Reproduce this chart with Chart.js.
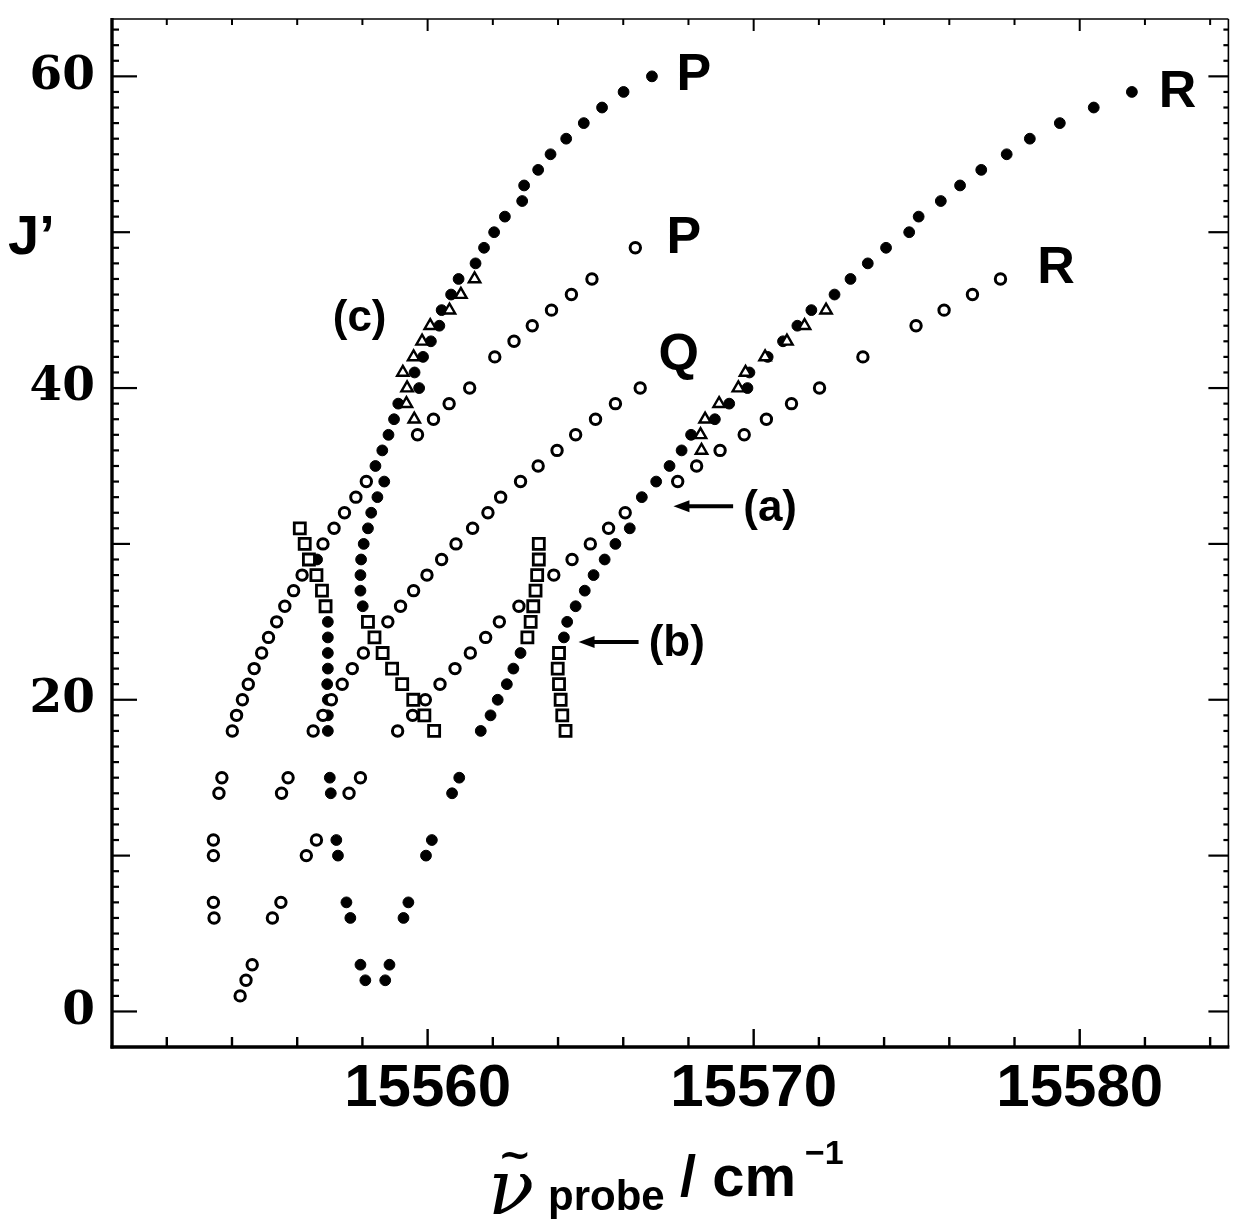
<!DOCTYPE html>
<html><head><meta charset="utf-8">
<script src="https://cdn.jsdelivr.net/npm/chart.js@4.4.1/dist/chart.umd.min.js"></script>
<style>html,body{margin:0;padding:0;background:#fff;}#wrap{width:1239px;height:1223px;}</style>
</head><body><div id="wrap"><canvas id="c" width="1239" height="1223"></canvas></div>
<script>
// ---------- data (J' values and probe wavenumbers, cm-1) ----------
// filled circles
const fLowP_J  = [2,3,6,7,10,11,14,15,18,19,20,21,22,23,24,25,29];
const fLowP_nu = [15558.09,15557.94,15557.63,15557.51,15557.25,15557.20,15557.03,15557.00,15556.94,15556.94,15556.94,15556.92,15556.94,15556.94,15556.94,15556.94,15556.61];
const fLowR_J  = [2,3,6,7,10,11,14,15,18,19,20,21,22,23];
const fLowR_nu = [15558.70,15558.83,15559.26,15559.41,15559.95,15560.13,15560.75,15560.97,15561.63,15561.93,15562.15,15562.43,15562.63,15562.85];
const fP_J  = [26,27,28,29,30,31,32,33,34,35,36,37,38,39,40,41,42,43,44,45,46,47,48,49,50,51,52,53,54,55,56,57,58,59,60];
const fP_nu = [15558.01,15557.94,15557.94,15557.96,15558.04,15558.17,15558.27,15558.46,15558.67,15558.40,15558.61,15558.80,15558.97,15559.10,15559.74,15559.60,15559.86,15560.10,15560.36,15560.43,15560.72,15560.95,15561.47,15561.73,15562.04,15562.37,15562.90,15562.96,15563.39,15563.77,15564.25,15564.79,15565.35,15566.01,15566.88];
const fR_J  = [24,25,26,27,28,29,30,31,33,34,35,36,37,38,39,40,41,42,43,44,45,46,47,48,49,50,51,52,53,54,55,56,57,58,59];
const fR_nu = [15564.18,15564.28,15564.54,15564.82,15565.09,15565.43,15565.76,15566.20,15566.57,15567.01,15567.42,15567.79,15568.08,15568.81,15569.25,15569.81,15569.87,15570.43,15570.90,15571.34,15571.77,15572.48,15572.97,15573.50,15574.06,15574.77,15575.06,15575.74,15576.33,15576.98,15577.76,15578.47,15579.39,15580.43,15581.60];
// open circles
const oLeft_J  = [1,2,3,6,7,10,11,14,15,18,19,20,21,22,23,24,25,26,27,28,30,31,32,33,34];
const oLeft_nu = [15554.25,15554.43,15554.62,15553.45,15553.43,15553.43,15553.43,15553.60,15553.69,15554.01,15554.14,15554.32,15554.50,15554.68,15554.91,15555.12,15555.37,15555.62,15555.89,15556.15,15556.79,15557.13,15557.45,15557.80,15558.12];
const oLowA_J  = [6,7,14,15];
const oLowA_nu = [15555.24,15555.50,15555.52,15555.72];
const oLowB_J  = [10,11,14,15];
const oLowB_nu = [15556.28,15556.59,15557.59,15557.94];
const oQ_J  = [18,19,20,21,22,23,25,26,27,28,29,30,31,32,33,34,35,36,37,38,39,40];
const oQ_nu = [15556.49,15556.79,15557.05,15557.38,15557.69,15558.03,15558.78,15559.17,15559.57,15559.98,15560.43,15560.87,15561.38,15561.85,15562.24,15562.85,15563.39,15563.97,15564.54,15565.15,15565.76,15566.52];
const oR_J  = [18,19,20,21,22,23,24,25,26,28,29,30,31,32,34,35,36,37,38,39,40,42,44,45,46,47];
const oR_nu = [15559.08,15559.54,15559.93,15560.38,15560.84,15561.31,15561.78,15562.20,15562.80,15563.87,15564.43,15564.99,15565.55,15566.06,15567.67,15568.25,15568.97,15569.71,15570.39,15571.16,15572.02,15573.35,15574.98,15575.84,15576.71,15577.57];
const oP_J  = [37,38,39,40,42,43,44,45,46,47,49];
const oP_nu = [15559.69,15560.18,15560.66,15561.29,15562.06,15562.65,15563.21,15563.80,15564.41,15565.04,15566.37];
// open squares
const sA_J  = [26,27,28,29,30,31];
const sA_nu = [15556.87,15556.76,15556.59,15556.36,15556.23,15556.08];
const sB_J  = [18,19,20,21,22,23,24,25];
const sB_nu = [15560.20,15559.90,15559.56,15559.22,15558.91,15558.62,15558.37,15558.17];
const sC_J  = [24,25,26,27,28,29,30];
const sC_nu = [15563.06,15563.16,15563.24,15563.31,15563.36,15563.41,15563.41];
const sD_J  = [18,19,20,21,22,23];
const sD_nu = [15564.23,15564.13,15564.08,15564.03,15563.99,15564.03];
// open triangles
const tP_J  = [38,39,40,41,42,43,44,45,46,47];
const tP_nu = [15559.59,15559.35,15559.37,15559.24,15559.57,15559.83,15560.08,15560.67,15561.02,15561.44];
const tR_J  = [36,37,38,39,40,41,42,43,44,45];
const tR_nu = [15568.40,15568.37,15568.51,15568.94,15569.53,15569.75,15570.35,15571.02,15571.56,15572.22];
// axis ticks
const xTickValues = [15552,15554,15556,15558,15560,15562,15564,15566,15568,15570,15572,15574,15576,15578,15580,15582,15584];
const xLabelValues = [15560,15570,15580];
const yTickValues = Array.from({length:64},(_,i)=>i);
const yLabelValues = [0,20,40,60];
// text labels (anchored in data units)
const branchLabels = [
  {text:'P', nu:15567.63, J:60.2, big:true},
  {text:'P', nu:15567.33, J:49.7, big:true},
  {text:'Q', nu:15567.08, J:42.2, big:true},
  {text:'R', nu:15582.42, J:59.1, big:true},
  {text:'R', nu:15578.70, J:47.8, big:true},
  {text:'(c)', nu:15557.09, J:44.6, big:false},
  {text:'(a)', nu:15569.68, J:32.4, big:false},
  {text:'(b)', nu:15566.78, J:23.7, big:false}
];
const arrows = [
  {from:15569.37, to:15567.54, J:32.42},
  {from:15566.47, to:15564.63, J:23.71}
];

// ---------- fonts ----------
function hasFont(name){
  const c=document.createElement('canvas').getContext('2d');
  c.font='bold 40px monospace'; const w1=c.measureText('15560 Wiggle').width;
  c.font='bold 40px "'+name+'", monospace'; const w2=c.measureText('15560 Wiggle').width;
  return Math.abs(w1-w2)>0.5;
}
const narrow = hasFont('Liberation Sans Narrow');
const xTickFont = narrow
  ? {family:'"Liberation Sans Narrow", "Liberation Sans", sans-serif', weight:'bold', size:70, lineHeight:1.2}
  : {family:'"Liberation Sans", Arial, sans-serif', weight:'bold', size:60, lineHeight:1.2};
const xTickPad = narrow ? 1 : 6;

// ---------- chart ----------
const pts = (nu,J)=>nu.map((v,i)=>({x:v,y:J[i]}));
const sq = (nu,J)=>({data:pts(nu,J),pointStyle:'rect',pointRadius:7.8,borderWidth:2.8,borderColor:'#000',backgroundColor:'#fff'});
const tri= (nu,J)=>({data:pts(nu,J),pointStyle:'triangle',pointRadius:6.6,borderWidth:2.4,borderColor:'#000',backgroundColor:'#fff'});
const op = (nu,J)=>({data:pts(nu,J),pointStyle:'circle',pointRadius:5.2,borderWidth:3,borderColor:'#000',backgroundColor:'#fff'});
const fi = (nu,J)=>({data:pts(nu,J),pointStyle:'circle',pointRadius:5.4,borderWidth:1,borderColor:'#000',backgroundColor:'#000'});

const datasets = [
  sq(sA_nu,sA_J), sq(sB_nu,sB_J), sq(sC_nu,sC_J), sq(sD_nu,sD_J),
  tri(tP_nu,tP_J), tri(tR_nu,tR_J),
  op(oLeft_nu,oLeft_J), op(oLowA_nu,oLowA_J), op(oLowB_nu,oLowB_J), op(oQ_nu,oQ_J), op(oR_nu,oR_J), op(oP_nu,oP_J),
  fi(fLowP_nu,fLowP_J), fi(fLowR_nu,fLowR_J), fi(fP_nu,fP_J), fi(fR_nu,fR_J)
];

const framePlugin = {
  id:'frame',
  afterDraw(chart){
    const {ctx, chartArea:a, scales:{x,y}} = chart;
    ctx.save();
    ctx.strokeStyle='#000'; ctx.fillStyle='#000';
    const seg=(x1,y1,x2,y2,w)=>{ctx.lineWidth=w;ctx.beginPath();ctx.moveTo(x1,y1);ctx.lineTo(x2,y2);ctx.stroke();};
    // frame
    seg(a.left,a.top-1,a.left,a.bottom+1.5,3.4);
    seg(a.left-1.5,a.bottom,a.right+1,a.bottom,3.4);
    seg(a.left,a.top,a.right,a.top,1.6);
    seg(a.right,a.top,a.right,a.bottom,1.6);
    // x ticks (inward, bottom and top)
    xTickValues.forEach(v=>{
      const px=x.getPixelForValue(v);
      const major = v%10===0;
      seg(px,a.bottom,px,a.bottom-(major?18:10),2.4);
      seg(px,a.top,px,a.top+(major?12:6),2);
    });
    // y ticks (inward, left and right)
    yTickValues.forEach(v=>{
      const py=y.getPixelForValue(v);
      const L = v%20===0?25:(v%10===0?18:7);
      const R = v%10===0?20:5;
      seg(a.left,py,a.left+L,py,2.2);
      seg(a.right,py,a.right-R,py,2.2);
    });
    // branch labels
    ctx.textBaseline='middle'; ctx.textAlign='left';
    branchLabels.forEach(l=>{
      ctx.font = l.big ? 'bold 52px "Liberation Sans", Arial, sans-serif' : 'bold 44px "Liberation Sans", Arial, sans-serif';
      ctx.fillText(l.text, x.getPixelForValue(l.nu), y.getPixelForValue(l.J)+2);
    });
    // arrows
    arrows.forEach(ar=>{
      const x1=x.getPixelForValue(ar.from), x2=x.getPixelForValue(ar.to), py=y.getPixelForValue(ar.J);
      seg(x1,py,x2+12,py,4);
      ctx.beginPath(); ctx.moveTo(x2,py); ctx.lineTo(x2+16,py-6); ctx.lineTo(x2+16,py+6); ctx.closePath(); ctx.fill();
    });
    // y-axis title J'
    ctx.font='bold 56px "Liberation Sans", Arial, sans-serif';
    ctx.textAlign='left'; ctx.textBaseline='alphabetic';
    ctx.fillText('J\u2019', 8, 254);
    // x-axis title
    ctx.font='italic 76px "DejaVu Serif", serif';
    ctx.fillText('\u03BD', 488, 1214);
    ctx.font='bold 40px "DejaVu Serif", serif';
    ctx.fillText('~', 498, 1168);
    ctx.font='bold 42px "Liberation Sans", Arial, sans-serif';
    ctx.fillText('probe', 548, 1210);
    ctx.font='bold 58px "Liberation Sans", Arial, sans-serif';
    ctx.fillText('/ cm', 680, 1196);
    ctx.font='bold 34px "Liberation Sans", Arial, sans-serif';
    ctx.fillText('\u22121', 805, 1164);
    ctx.restore();
  }
};

const noPad = s=>{ s.paddingTop=0; s.paddingBottom=0; s.paddingLeft=0; s.paddingRight=0; };

new Chart(document.getElementById('c'), {
  type:'scatter',
  data:{datasets},
  options:{
    responsive:false, animation:false, events:[],
    layout:{padding:{top:19,right:7,left:0,bottom:0}},
    plugins:{legend:{display:false}, tooltip:{enabled:false}},
    scales:{
      x:{type:'linear', min:15550.32, max:15584.56,
        afterBuildTicks:s=>{s.ticks=xTickValues.map(v=>({value:v}));},
        afterFit:s=>{s.height=176; noPad(s);},
        grid:{display:false, drawTicks:false}, border:{display:false},
        ticks:{autoSkip:false, minRotation:0, maxRotation:0, padding:xTickPad, color:'#000',
          font:xTickFont,
          callback:v=> xLabelValues.includes(v) ? String(v) : ''}
      },
      y:{type:'linear', min:-2.28, max:63.68,
        afterBuildTicks:s=>{s.ticks=yTickValues.map(v=>({value:v}));},
        afterFit:s=>{s.width=112; noPad(s);},
        grid:{display:false, drawTicks:false}, border:{display:false},
        ticks:{autoSkip:false, padding:17, color:'#000',
          font:{family:'"DejaVu Serif", serif', weight:'bold', size:47, lineHeight:1.2},
          callback:v=> yLabelValues.includes(v) ? String(v) : ''}
      }
    }
  },
  plugins:[framePlugin]
});
</script></body></html>
